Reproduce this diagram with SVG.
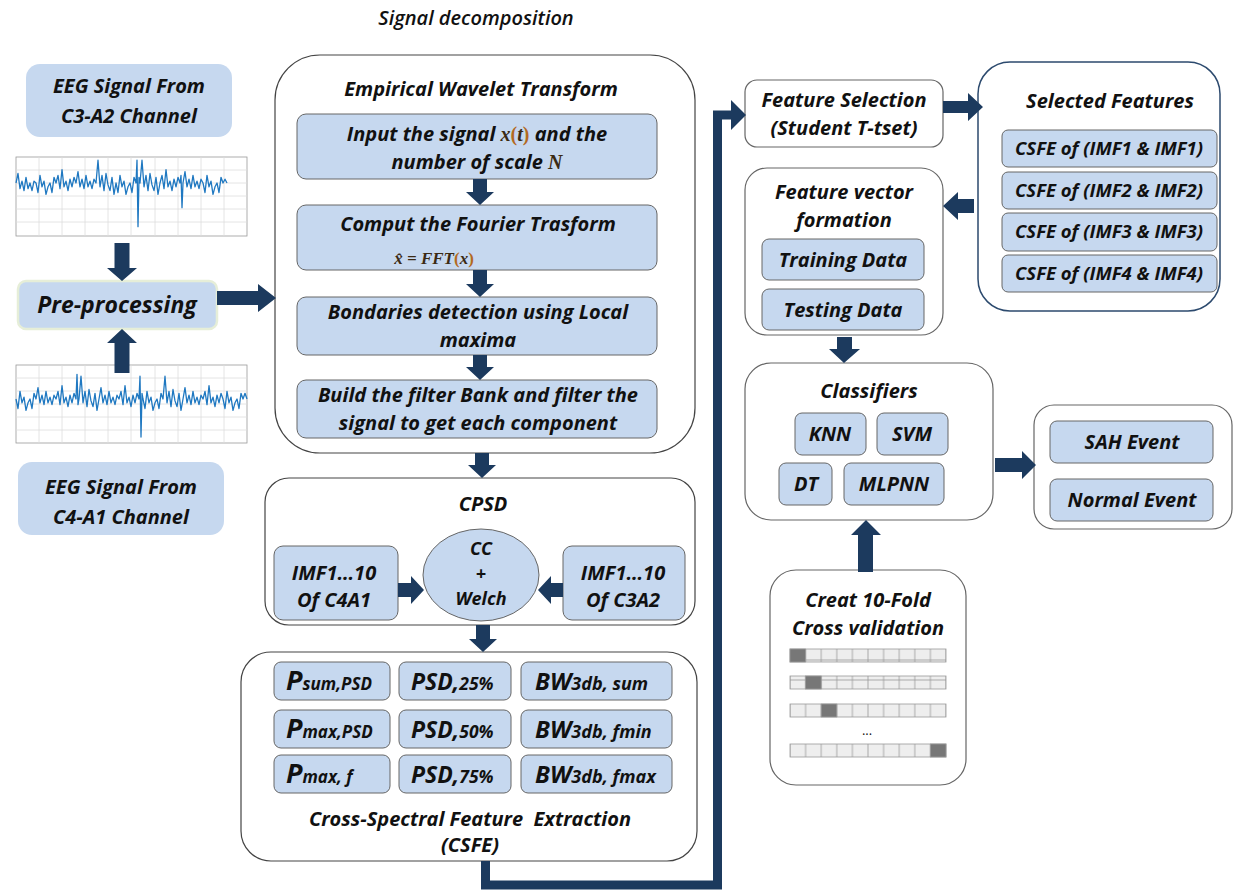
<svg xmlns="http://www.w3.org/2000/svg" width="1235" height="894" viewBox="0 0 1235 894">
<style>
text{font-family:"Open Sans","Noto Sans","Liberation Sans",sans-serif;font-weight:bold;font-style:italic;fill:#111;text-anchor:middle}
.t{font-size:20px}
.e{font-size:18px}
.box{fill:#c6d8ef;stroke:#666;stroke-width:1}
.cont{fill:#fff;stroke:#444;stroke-width:1.2}
.arr{fill:#1c3a5e}
.eeg{fill:#c6d8ef}
.grid{stroke:#ddd;stroke-width:0.8;fill:none}
.frame{fill:#fff;stroke:#999;stroke-width:0.8}
.sig{fill:none;stroke:#1f78c1;stroke-width:1.3;stroke-linejoin:round}
.m{font-family:"Liberation Serif",serif;font-style:italic;font-weight:bold}
.cell{stroke:#999;stroke-width:0.8}
</style>
<defs>
<pattern id="cells" x="790" y="0" width="15.6" height="20" patternUnits="userSpaceOnUse">
<rect x="0" y="0" width="15.6" height="20" fill="#eee" stroke="#999" stroke-width="0.8"/>
</pattern>
</defs>

<text x="476" y="25" style="font-size:20px;font-weight:600">Signal decomposition</text>

<g id="eeg1">
<rect x="26" y="64" width="206" height="73" rx="14" class="eeg"/>
<text class="t" x="129" y="93">EEG Signal From</text>
<text class="t" x="129" y="123">C3-A2 Channel</text>
</g>

<g id="plot1">
<rect x="16" y="157" width="231" height="79" class="frame"/>
<path class="grid" d="M39 157V236M62 157V236M85 157V236M108 157V236M131 157V236M155 157V236M178 157V236M201 157V236M224 157V236M16 170H247M16 183H247M16 196H247M16 209H247M16 222H247"/>
<path class="sig" vector-effect="non-scaling-stroke" transform="translate(0,183) scale(1,1.9) translate(0,-183)" d="M16,183 l2,-5 2,8 2,-4 2,5 2,-7 2,6 2,-3 2,4 2,-5 2,1 l2,5 2,-9 2,6 2,-3 2,7 2,-4 2,-2 2,5 2,-8 2,3 l2,-4 2,7 2,-10 2,9 2,-3 2,5 2,-6 2,4 2,-5 2,3 l2,-6 2,8 2,-4 2,5 2,-7 2,6 2,-3 2,4 2,-5 2,2 l2,-12 2,14 2,-6 2,8 2,-9 2,6 2,3 2,-7 2,9 2,-6 l2,5 2,-9 2,6 2,-3 2,7 2,-4 2,-2 2,5 2,-8 2,3 l1,-12 1,35 1,-26 1,3 l2,-12 2,14 2,-6 2,8 2,-9 2,6 2,3 2,-7 2,9 2,-6 l2,-4 2,7 2,-10 2,9 2,-3 2,5 2,-6 2,4 2,-5 2,3 l1,-4 1,17 1,-13 l2,-6 2,8 2,-4 2,5 2,-7 2,6 2,-3 2,4 2,-5 2,2 l2,5 2,-9 2,6 2,-3 2,7 2,-4 2,-2 2,5 2,-8 2,3 l2,-2 2,2"/>
</g>

<g id="preproc">
<rect x="18" y="281" width="199" height="48" rx="8" fill="#c6d8ef" stroke="#e6eed8" stroke-width="2.5"/>
<text x="117" y="313" style="font-size:23px">Pre-processing</text>
</g>

<g id="plot2">
<rect x="16" y="365" width="231" height="78" class="frame"/>
<path class="grid" d="M39 365V443M62 365V443M85 365V443M108 365V443M131 365V443M155 365V443M178 365V443M201 365V443M224 365V443M16 378H247M16 391H247M16 404H247M16 417H247M16 430H247"/>
<path class="sig" vector-effect="non-scaling-stroke" transform="translate(0,399) scale(1,1.9) translate(0,-399)" d="M16,399 l2,5 2,-9 2,6 2,-3 2,7 2,-4 2,-2 2,5 2,-8 2,3 l2,-6 2,8 2,-4 2,5 2,-7 2,6 2,-3 2,4 2,-5 2,2 l2,-4 2,7 2,-10 2,9 2,-3 2,5 2,-6 2,4 2,-5 2,3 l1,-13 1,16 1,-3 l2,-12 2,14 2,-6 2,8 2,-9 2,6 2,3 2,-7 2,9 2,-6 l2,-6 2,8 2,-4 2,5 2,-7 2,6 2,-3 2,4 2,-5 2,2 l2,-4 2,7 2,-10 2,9 2,-3 2,5 2,-6 2,4 2,-5 2,3 l1,-12 1,32 1,-23 1,3 l2,5 2,-9 2,6 2,-3 2,7 2,-4 2,-2 2,5 2,-8 2,3 l2,-12 2,14 2,-6 2,8 2,-9 2,6 2,3 2,-7 2,9 2,-6 l2,-6 2,8 2,-4 2,5 2,-7 2,6 2,-3 2,4 2,-5 2,2 l2,-4 2,7 2,-10 2,9 2,-3 2,5 2,-6 2,4 2,-5 2,3 l2,5 2,-9 2,6 2,-3 2,7 2,-4 2,-2 2,5 2,-8 2,3 l2,-3 2,3"/>
</g>

<g id="eeg2">
<rect x="18" y="462" width="206" height="73" rx="14" class="eeg"/>
<text class="t" x="121" y="494">EEG Signal From</text>
<text class="t" x="121" y="524">C4-A1 Channel</text>
</g>

<g id="ewt">
<rect x="275" y="55" width="420" height="398" rx="45" class="cont"/>
<text class="t" x="481" y="96">Empirical Wavelet Transform</text>
<rect x="297" y="114" width="360" height="65" rx="9" class="box"/>
<text class="t" x="477" y="141"><tspan>Input the signal </tspan><tspan class="m" fill="#3b2a14">x</tspan><tspan class="m" fill="#b36a1f" style="font-style:normal">(</tspan><tspan class="m" fill="#3b2a14">t</tspan><tspan class="m" fill="#b36a1f" style="font-style:normal">)</tspan><tspan> and the</tspan></text>
<text class="t" x="477" y="169"><tspan>number of scale  </tspan><tspan class="m" fill="#3b2a14">N</tspan></text>
<rect x="297" y="205" width="360" height="65" rx="9" class="box"/>
<text class="t" x="478" y="231">Comput the Fourier Trasform</text>
<text class="m" x="434" y="264" style="font-size:17px;text-anchor:middle"><tspan fill="#3b2a14">x̂ = FFT</tspan><tspan fill="#b36a1f" style="font-style:normal">(</tspan><tspan fill="#3b2a14">x</tspan><tspan fill="#b36a1f" style="font-style:normal">)</tspan></text>
<rect x="297" y="297" width="360" height="58" rx="9" class="box"/>
<text class="t" x="478" y="319">Bondaries detection using Local</text>
<text class="t" x="478" y="347">maxima</text>
<rect x="297" y="380" width="360" height="58" rx="9" class="box"/>
<text class="t" x="478" y="402">Build the filter Bank and filter the</text>
<text class="t" x="478" y="430">signal to get each component</text>
</g>

<g id="cpsd">
<rect x="265" y="478" width="430" height="147" rx="24" class="cont"/>
<text class="t" x="483" y="511">CPSD</text>
<rect x="274" y="546" width="124" height="74" rx="9" class="box"/>
<text class="t" x="334" y="580">IMF1…10</text>
<text class="t" x="334" y="607">Of C4A1</text>
<ellipse cx="481" cy="575" rx="58" ry="46" fill="#c6d8ef" stroke="#666" stroke-width="1"/>
<text class="e" x="481" y="555">CC</text>
<text class="e" x="481" y="580">+</text>
<text class="e" x="481" y="605">Welch</text>
<rect x="563" y="546" width="122" height="74" rx="9" class="box"/>
<text class="t" x="623" y="580">IMF1…10</text>
<text class="t" x="623" y="607">Of C3A2</text>
</g>

<g id="csfe">
<rect x="241" y="652" width="456" height="209" rx="30" class="cont"/>
<rect x="274" y="662" width="116" height="38" rx="7" class="box"/>
<rect x="399" y="662" width="112" height="38" rx="7" class="box"/>
<rect x="521" y="662" width="151" height="38" rx="7" class="box"/>
<rect x="274" y="710" width="116" height="38" rx="7" class="box"/>
<rect x="399" y="710" width="112" height="38" rx="7" class="box"/>
<rect x="521" y="710" width="151" height="38" rx="7" class="box"/>
<rect x="274" y="755" width="116" height="38" rx="7" class="box"/>
<rect x="399" y="755" width="112" height="38" rx="7" class="box"/>
<rect x="521" y="755" width="151" height="38" rx="7" class="box"/>
<text x="286" y="690" style="text-anchor:start"><tspan font-size="27">P</tspan><tspan font-size="17">sum,PSD</tspan></text>
<text x="286" y="738" style="text-anchor:start"><tspan font-size="27">P</tspan><tspan font-size="17">max,PSD</tspan></text>
<text x="286" y="783" style="text-anchor:start"><tspan font-size="27">P</tspan><tspan font-size="17">max, f</tspan></text>
<text x="411" y="690" style="text-anchor:start"><tspan font-size="23">PSD,</tspan><tspan font-size="17.5">25%</tspan></text>
<text x="411" y="738" style="text-anchor:start"><tspan font-size="23">PSD,</tspan><tspan font-size="17.5">50%</tspan></text>
<text x="411" y="783" style="text-anchor:start"><tspan font-size="23">PSD,</tspan><tspan font-size="17.5">75%</tspan></text>
<text x="535" y="690" style="text-anchor:start"><tspan font-size="24">BW</tspan><tspan font-size="18">3db, sum</tspan></text>
<text x="535" y="738" style="text-anchor:start"><tspan font-size="24">BW</tspan><tspan font-size="18">3db, fmin</tspan></text>
<text x="535" y="783" style="text-anchor:start"><tspan font-size="24">BW</tspan><tspan font-size="18">3db, fmax</tspan></text>
<text class="t" x="470" y="826" xml:space="preserve">Cross-Spectral Feature  Extraction</text>
<text class="t" x="470" y="852">(CSFE)</text>
</g>

<g id="featsel">
<rect x="745" y="80" width="198" height="67" rx="12" class="cont" style="stroke:#666"/>
<text class="t" x="844" y="107">Feature Selection</text>
<text class="t" x="844" y="135">(Student T-tset)</text>
</g>

<g id="selected">
<rect x="978" y="62" width="242" height="249" rx="32" fill="#fff" stroke="#2c4a6e" stroke-width="1.5"/>
<text class="t" x="1110" y="108">Selected Features</text>
<rect x="1002" y="130" width="215" height="37" rx="6" class="box"/>
<text x="1109" y="155" style="font-size:18.5px">CSFE of (IMF1 &amp; IMF1)</text>
<rect x="1002" y="172" width="215" height="37" rx="6" class="box"/>
<text x="1109" y="197" style="font-size:18.5px">CSFE of (IMF2 &amp; IMF2)</text>
<rect x="1002" y="213" width="215" height="38" rx="6" class="box"/>
<text x="1109" y="238" style="font-size:18.5px">CSFE of (IMF3 &amp; IMF3)</text>
<rect x="1002" y="255" width="215" height="37" rx="6" class="box"/>
<text x="1109" y="280" style="font-size:18.5px">CSFE of (IMF4 &amp; IMF4)</text>
</g>

<g id="fvec">
<rect x="745" y="168" width="198" height="167" rx="22" class="cont" style="stroke:#666"/>
<text class="t" x="844" y="199">Feature vector</text>
<text class="t" x="844" y="227">formation</text>
<rect x="762" y="239" width="162" height="41" rx="7" class="box"/>
<text class="t" x="843" y="267">Training Data</text>
<rect x="762" y="289" width="162" height="41" rx="7" class="box"/>
<text class="t" x="843" y="317">Testing Data</text>
</g>

<g id="classifiers">
<rect x="745" y="363" width="248" height="157" rx="26" class="cont" style="stroke:#666"/>
<text class="t" x="869" y="398">Classifiers</text>
<rect x="795" y="413" width="71" height="42" rx="7" class="box"/>
<text class="t" x="830" y="441">KNN</text>
<rect x="877" y="413" width="71" height="42" rx="7" class="box"/>
<text class="t" x="912" y="441">SVM</text>
<rect x="779" y="463" width="53" height="42" rx="7" class="box"/>
<text class="t" x="806" y="491">DT</text>
<rect x="844" y="463" width="100" height="42" rx="7" class="box"/>
<text class="t" x="894" y="491">MLPNN</text>
</g>

<g id="output">
<rect x="1034" y="405" width="198" height="124" rx="20" class="cont" style="stroke:#666"/>
<rect x="1050" y="421" width="163" height="42" rx="7" class="box"/>
<text class="t" x="1132" y="449">SAH Event</text>
<rect x="1050" y="479" width="163" height="42" rx="7" class="box"/>
<text class="t" x="1132" y="507">Normal Event</text>
</g>

<g id="kfold">
<rect x="770" y="570" width="196" height="215" rx="26" class="cont" style="stroke:#666"/>
<text class="t" x="868" y="607">Creat 10-Fold</text>
<text class="t" x="868" y="635">Cross validation</text>
<rect x="790" y="649" width="156" height="13" fill="url(#cells)" class="cell"/>
<rect x="790" y="649" width="15.6" height="13" fill="#777" class="cell"/>
<rect x="790" y="676" width="156" height="13" fill="url(#cells)" class="cell"/>
<rect x="805.6" y="676" width="15.6" height="13" fill="#777" class="cell"/>
<rect x="790" y="704" width="156" height="13" fill="url(#cells)" class="cell"/>
<rect x="821.2" y="704" width="15.6" height="13" fill="#777" class="cell"/>
<text x="867" y="735" style="font-size:13px;font-style:normal;font-weight:normal">...</text>
<rect x="790" y="744" width="156" height="13" fill="url(#cells)" class="cell"/>
<rect x="930.4" y="744" width="15.6" height="13" fill="#777" class="cell"/>
</g>

<g id="connectors">
<polygon class="arr" points="114.5,243 129.5,243 129.5,268 137,268 122,281 107,268 114.5,268"/>
<polygon class="arr" points="114.5,373 129.5,373 129.5,343 137,343 122,329 107,343 114.5,343"/>
<polygon class="arr" points="217,291 258,291 258,284 276,298 258,312 258,305 217,305"/>
<polygon class="arr" points="473,179 487,179 487,192 494,192 480,205 466,192 473,192"/>
<polygon class="arr" points="473,270 487,270 487,284 494,284 480,297 466,284 473,284"/>
<polygon class="arr" points="473,355 487,355 487,367 494,367 480,380 466,367 473,367"/>
<polygon class="arr" points="475,453 489,453 489,465 496,465 482,478 468,465 475,465"/>
<polygon class="arr" points="398,583 411,583 411,576 424,590 411,604 411,597 398,597"/>
<polygon class="arr" points="563,583 551,583 551,576 538,590 551,604 551,597 563,597"/>
<polygon class="arr" points="476,625 490,625 490,639 497,639 483,652 469,639 476,639"/>
<path d="M485.5,861 V885 H717.5 V115 H733" fill="none" stroke="#1c3a5e" stroke-width="9"/>
<polygon class="arr" points="731,100 746,115 731,130"/>
<polygon class="arr" points="943,101 968,101 968,93 983,107 968,121 968,113 943,113"/>
<polygon class="arr" points="974,199 958,199 958,192 943,206 958,220 958,213 974,213"/>
<polygon class="arr" points="837,337 852,337 852,349 860,349 844,363 829,349 837,349"/>
<polygon class="arr" points="995,458 1022,458 1022,451 1036,465 1022,479 1022,472 995,472"/>
<polygon class="arr" points="858,572 873,572 873,535 881,535 866,520 851,535 858,535"/>
</g>
</svg>
